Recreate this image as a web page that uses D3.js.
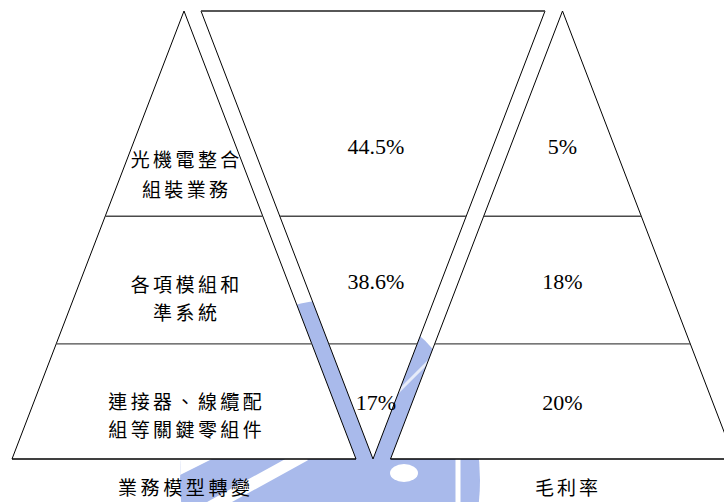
<!DOCTYPE html>
<html>
<head>
<meta charset="utf-8">
<script src="https://cdn.jsdelivr.net/npm/d3@7/dist/d3.min.js"></script>
<style>
  html, body { margin: 0; padding: 0; background: #fff; overflow: hidden; }
  svg { display: block; }
</style>
</head>
<body>
<svg id="chart" width="724" height="502"></svg>
<script>
// ---- data ----
const segmentLabels = [
  ["光機電整合", "組裝業務"],
  ["各項模組和", "準系統"],
  ["連接器、線纜配", "組等關鍵零組件"]
];
const revenueShares = [44.5, 38.6, 17];   // 營收比重 (%)
const grossMargins = [5, 18, 20];         // 毛利率 (%)
const leftTitle = "業務模型轉變";
const rightTitle = "毛利率";

// ---- layout ----
const W = 724, H = 502;
const bandBreaks = [0, 0.458, 0.743, 1];          // band boundaries, top to bottom
const valueRowAt = [0.302, 0.603, 0.873];          // vertical position of value text per band
const labelRowsAt = [[0.333, 0.400], [0.612, 0.674], [0.873, 0.935]];
const titleAt = 1.064;

const y = d3.scaleLinear().domain([0, 1]).range([11, 459]);
const spread = d3.scaleLinear().domain([0, 1]).range([0, 172]); // half-width at a given depth

const leftApex = 184, vMid = 373, rightApex = 562.5;

const svg = d3.select("#chart");
svg.append("rect").attr("width", W).attr("height", H).attr("fill", "#fff");

// ---- faint emblem behind the diagram ----
const defs = svg.append("defs");
defs.append("clipPath").attr("id", "emblemClip")
  .append("ellipse").attr("cx", 330).attr("cy", 480).attr("rx", 150).attr("ry", 180);
const emblem = svg.append("g").attr("clip-path", "url(#emblemClip)");
emblem.append("rect").attr("x", 0).attr("y", 0).attr("width", W).attr("height", H).attr("fill", "#a9baeb");
emblem.append("line").attr("x1", 205).attr("y1", 510).attr("x2", 305).attr("y2", 455)
  .attr("stroke", "#fff").attr("stroke-width", 12);
emblem.append("line").attr("x1", 170).attr("y1", 470).attr("x2", 230).attr("y2", 440)
  .attr("stroke", "#fff").attr("stroke-width", 18);
emblem.append("ellipse").attr("cx", 404).attr("cy", 473).attr("rx", 14).attr("ry", 9).attr("fill", "#fff");
emblem.append("line").attr("x1", 458).attr("y1", 459).attr("x2", 458).attr("y2", 502)
  .attr("stroke", "#fff").attr("stroke-width", 5);
emblem.append("line").attr("x1", 395).attr("y1", 395).attr("x2", 445).attr("y2", 345)
  .attr("stroke", "#e6ebf9").attr("stroke-width", 3);

// ---- shapes ----
const line = d3.line();
const up = c => [[c, y(0)], [c - spread(1), y(1)], [c + spread(1), y(1)]];
const down = c => [[c - spread(1), y(0)], [c + spread(1), y(0)], [c, y(1)]];

const shapes = svg.append("g");
[up(leftApex), down(vMid), up(rightApex)].forEach(pts => {
  shapes.append("path")
    .attr("d", line(pts) + "Z")
    .attr("fill", "#fff")
    .attr("stroke", "#000")
    .attr("stroke-width", 1);
});

// band dividers
const dividers = svg.append("g").attr("stroke", "#4a4a4a").attr("stroke-width", 1.4);
bandBreaks.slice(1, -1).forEach(t => {
  const yy = y(t);
  [[leftApex - spread(t), leftApex + spread(t)],
   [vMid - spread(1 - t), vMid + spread(1 - t)],
   [rightApex - spread(t), rightApex + spread(t)]].forEach(([a, b]) => {
    dividers.append("line").attr("x1", a).attr("x2", b).attr("y1", yy).attr("y2", yy);
  });
});
// top edge of the middle shape and base lines
dividers.append("line").attr("x1", vMid - spread(1)).attr("x2", vMid + spread(1))
  .attr("y1", y(0)).attr("y2", y(0));
svg.append("g").attr("stroke", "#000").attr("stroke-width", 1.2)
  .selectAll("line")
  .data([leftApex, rightApex])
  .join("line")
  .attr("x1", c => c - spread(1)).attr("x2", c => c + spread(1))
  .attr("y1", y(1)).attr("y2", y(1));

// ---- text ----
const cjkFont = "'Noto Sans CJK TC', 'Noto Sans CJK SC', sans-serif";
const cjkSize = 19, cjkGap = 3.4;
function cjkText(x, cy, txt, gap) {
  svg.append("text")
    .attr("x", x + gap / 2)
    .attr("y", cy + cjkSize * 0.36)
    .attr("text-anchor", "middle")
    .attr("font-family", cjkFont)
    .attr("font-size", cjkSize)
    .attr("letter-spacing", gap)
    .attr("fill", "#000")
    .text(txt);
}
segmentLabels.forEach((rows, i) => {
  rows.forEach((txt, j) => cjkText(leftApex + 1, y(labelRowsAt[i][j]), txt, cjkGap));
});
cjkText(leftApex, y(titleAt), leftTitle, 3.6);
cjkText(rightApex + 4, y(titleAt), rightTitle, 3);

const numFont = "'Liberation Serif', 'Times New Roman', serif";
function valueText(x, cy, v) {
  svg.append("text")
    .attr("x", x)
    .attr("y", cy + 22 * 0.34)
    .attr("text-anchor", "middle")
    .attr("font-family", numFont)
    .attr("font-size", 22)
    .attr("fill", "#000")
    .text(v + "%");
}
revenueShares.forEach((v, i) => valueText(vMid + 3, y(valueRowAt[i]), v));
grossMargins.forEach((v, i) => valueText(rightApex, y(valueRowAt[i]), v));
</script>
</body>
</html>
